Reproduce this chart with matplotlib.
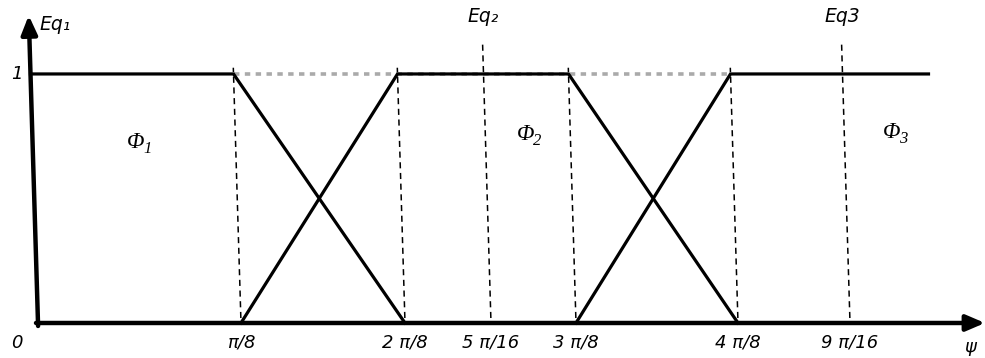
import numpy as np
import matplotlib.pyplot as plt
import matplotlib.transforms as mtransforms

# schematic psi positions of the breakpoints (not to scale)
tick_pos = [0, 203, 367, 453, 538, 700, 812]
tick_labels = ['0', 'π/8', '2 π/8', '5 π/16', '3 π/8', '4 π/8', '9 π/16']

# membership functions
phi1_x = [0, 203, 367]
phi1_y = [1, 1, 0]
phi2_x = [203, 367, 538, 700]
phi2_y = [0, 1, 1, 0]
phi3_x = [538, 700, 898]
phi3_y = [0, 1, 1]

# breakpoints with short guides, and the two equilibrium markers
guide_x = [203, 367, 538, 700]
eq_x = [453, 812]
eq_labels = ['Eq\u2082', 'Eq3']

fig = plt.figure(figsize=(9.85, 3.58), dpi=100)
ax = fig.add_axes([0, 0, 1, 1])
ax.set_xlim(-38, 947)
ax.set_ylim(-0.1406, 1.297)
ax.axis('off')

# slight lean of the whole sketch
skew = mtransforms.Affine2D.from_values(1, 0, -7.5, 1, 0, 0) + ax.transData

# axes with arrows
arrow = dict(arrowstyle='-|>,head_length=0.7,head_width=0.3', lw=3.2, color='black',
             mutation_scale=16, shrinkA=0, shrinkB=0)
ax.annotate('', xy=(0, 1.235), xytext=(0, -0.012), xycoords=skew, textcoords=skew,
            arrowprops=arrow)
ax.annotate('', xy=(947, 0), xytext=(-2, 0), xycoords=skew, textcoords=skew,
            arrowprops=arrow)

# guides
ax.plot([203, 700], [1, 1], color='#aaaaaa', lw=2.6, ls=(0, (1.5, 1.5)), transform=skew, zorder=1)
for x in guide_x:
    ax.plot([x, x], [0.02, 1.025], color='black', lw=1.1, ls=(0, (4, 3)), transform=skew, zorder=2)
for x in eq_x:
    ax.plot([x, x], [0.02, 1.13], color='black', lw=1.1, ls=(0, (4, 3)), transform=skew, zorder=2)

for xs, ys in [(phi1_x, phi1_y), (phi2_x, phi2_y), (phi3_x, phi3_y)]:
    ax.plot(xs, ys, color='black', lw=2.3, transform=skew, zorder=3, solid_joinstyle='miter')

# labels
lab = dict(fontsize=13, style='italic', family=['DejaVu Sans'], ha='center', va='center')
for x, t in zip(tick_pos[1:], tick_labels[1:]):
    ax.text(x, -0.08, t, **lab)
ax.text(-21, -0.08, tick_labels[0], **lab)
ax.text(-21, 1.0, '1', **lab)
ax.text(932, -0.098, 'ψ', **lab)
ax.text(2, 1.197, 'Eq\u2081', fontsize=13.5, style='italic', ha='left', va='center')
for x, t in zip(eq_x, eq_labels):
    ax.text(x - 8, 1.229, t, fontsize=13.5, style='italic', ha='center', va='center')

serif = dict(style='italic', family=['Liberation Serif', 'DejaVu Serif'], va='baseline')
for x, y, n in [(106, 0.703, '1'), (496, 0.735, '2'), (862, 0.743, '3')]:
    ax.text(x, y, 'Φ', fontsize=16.5, ha='right', **serif)
    ax.text(x - 1, y - 0.022, n, fontsize=12, ha='left', **serif)

fig.savefig('out.png', dpi=100)
